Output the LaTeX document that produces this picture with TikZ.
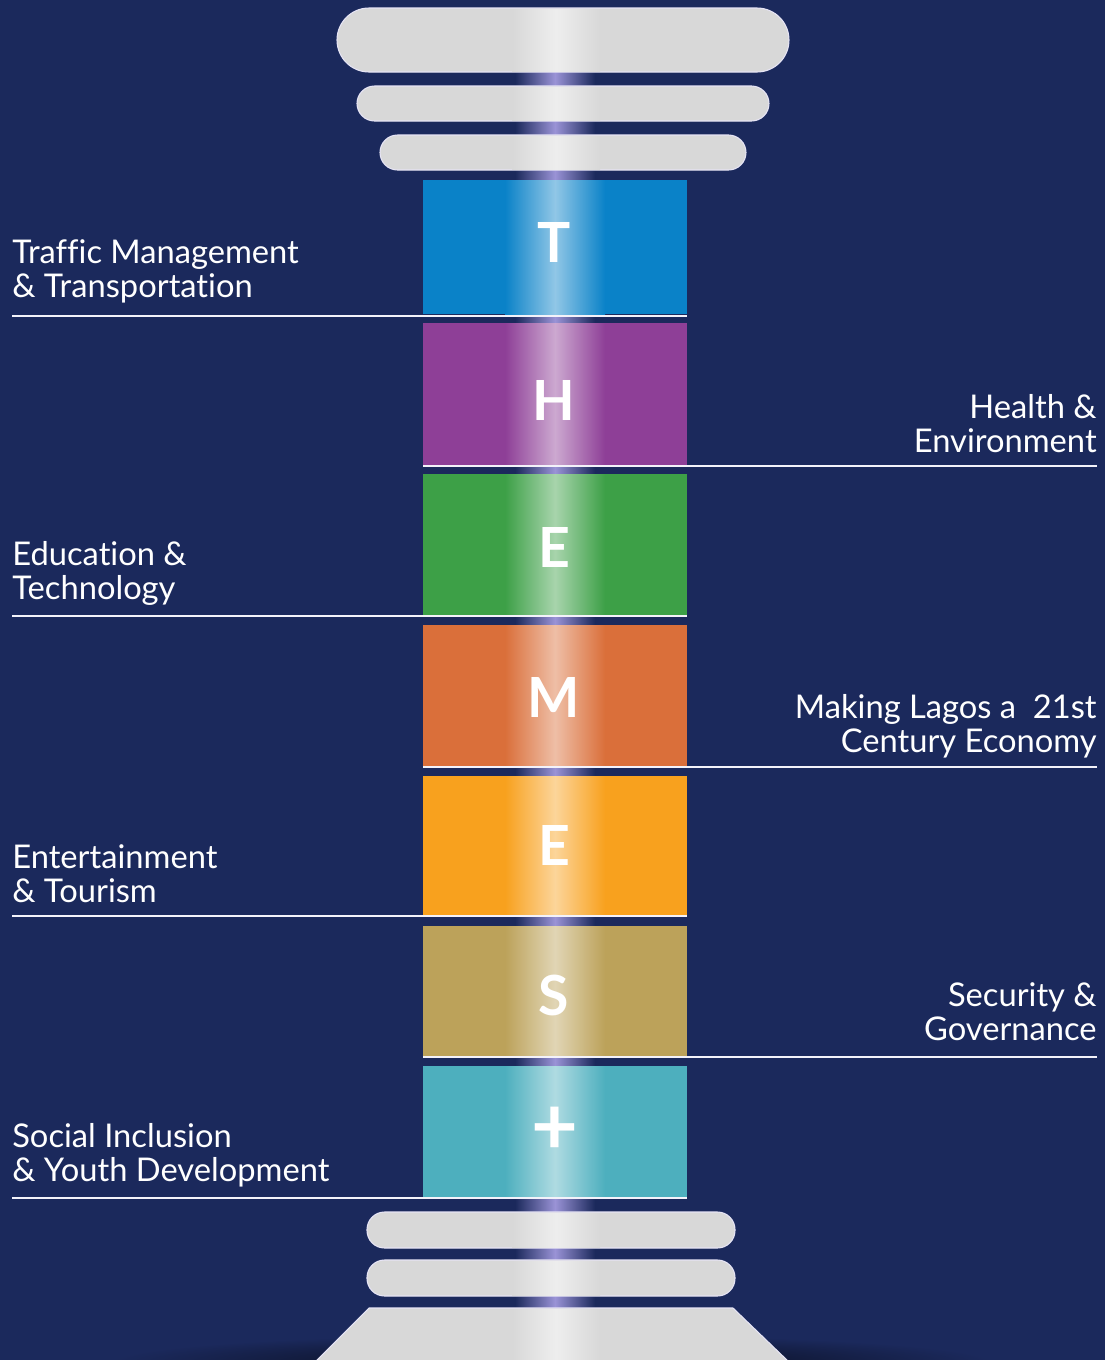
\documentclass[tikz,border=0pt]{standalone}
\usepackage{fontspec}
\setmainfont{Lato}[Ligatures=NoCommon]
\usetikzlibrary{positioning,fit}

\definecolor{navy}{HTML}{1B295C}
\definecolor{glow}{HTML}{9A93D6}
\definecolor{stone}{HTML}{D8D8D8}
\definecolor{tblue}{HTML}{0A82C8}
\definecolor{hpurple}{HTML}{8E3F97}
\definecolor{egreen}{HTML}{3DA047}
\definecolor{morange}{HTML}{DA6F3A}
\definecolor{eamber}{HTML}{F8A11E}
\definecolor{skhaki}{HTML}{BCA25A}
\definecolor{pteal}{HTML}{4DAFBE}

\tikzset{
	theme/.style={font=\fontsize{18.6}{18.8}\selectfont, text=white, inner sep=0pt},
	letter/.style={font=\fontsize{31.5}{31.5}\selectfont\bfseries, text=white, inner sep=0pt},
	rule/.style={draw=white!88!glow, line width=1.1pt},
	glint/.style={left color=#1, right color=#1, middle color=#1!45!white},
	ring/.style={fill=stone, draw=white!75!glow, line width=0.6pt}
}

\begin{document}
\begin{tikzpicture}[x=0.02cm,y=-0.02cm]
		% background
		\fill[navy] (0,0) rectangle (1105,1360);
		\useasboundingbox (0,0) rectangle (1105,1360);
		
		% light running down the middle of the column
		\shade[left color=navy, right color=navy, middle color=glow] (515,60) rectangle (595,1320);
		\shade[inner color=black!75!navy, outer color=navy] (552,1362) ellipse (440 and 28);
		
		% capital rings
		\foreach \x/\y/\w/\h in {337/8/452/64, 357/86/412/35, 380/135/366/35} {
			\path[ring, rounded corners=\h*0.01cm] (\x,\y) rectangle (\x+\w,\y+\h);
			\shade[glint=stone] (512,\y+1) rectangle (600,\y+\h-1);
		}
		
		% coloured blocks with their letters
		\foreach \mynode/\ytop/\ybot/\mycol/\mytext/\ly in {b1/180/314/tblue/T/242,
			b2/323/465/hpurple/H/400, b3/474/615/egreen/E/547, b4/625/767/morange/M/697,
			b5/776/916/eamber/E/845, b6/926/1057/skhaki/S/995} {
			\node[fit={(423,\ytop) (687,\ybot)}, inner sep=0pt, fill=\mycol] (\mynode) {};
			\shade[glint=\mycol] (505,\ytop) rectangle (605,\ybot);
			\node[letter] (l\mynode) at (554,\ly) {\mytext};
		}
		\node[fit={(423,1066) (687,1197)}, inner sep=0pt, fill=pteal] (b7) {};
		\shade[glint=pteal] (505,1066) rectangle (605,1197);
		\node[letter, font=\fontsize{46}{46}\selectfont\bfseries] (lb7) at (555,1131) {+};
		
		% base rings and plinth
		\foreach \y in {1212, 1260} {
			\path[ring, rounded corners=0.35cm] (367,\y) rectangle (735,\y+36);
			\shade[glint=stone] (512,\y+1) rectangle (600,\y+35);
		}
		\path[ring] (369,1308) -- (733,1308) -- (789,1362) -- (315,1362) -- cycle;
		\shade[glint=stone] (512,1309) rectangle (600,1362);
		
		% theme labels, left side (base anchor sits on the last line)
		\foreach \mynode/\x/\y/\mytext in {t1/12/297/{Traffic Management\\\& Transportation},
			t3/12/599/{Education \&\\Technology}, t5/12/902/{Entertainment\\\& Tourism},
			t7/12/1181/{Social Inclusion\\\& Youth Development}} {
			\node[theme, anchor=base west, align=left] (\mynode) at (\x,\y) {\mytext};
		}
		
		% theme labels, right side
		\foreach \mynode/\x/\y/\mytext in {t2/1097/452/{Health \&\\Environment},
			t4/1097/752/{Making Lagos a\ \ 21st\\Century Economy}, t6/1097/1040/{Security \&\\Governance}} {
			\node[theme, anchor=base east, align=right] (\mynode) at (\x,\y) {\mytext};
		}
		
		% rules under the labels, running to the blocks
		\foreach \mynode/\y in {b1/316, b3/616, b5/916, b7/1198} {
			\coordinate (c\mynode) at (12,\y);
			\draw[rule] (c\mynode) -- (c\mynode -| \mynode.east);
		}
		\foreach \mynode/\y in {b2/466, b4/767, b6/1057} {
			\coordinate (c\mynode) at (1097,\y);
			\draw[rule] (c\mynode) -- (c\mynode -| \mynode.west);
		}
\end{tikzpicture}
\end{document}
